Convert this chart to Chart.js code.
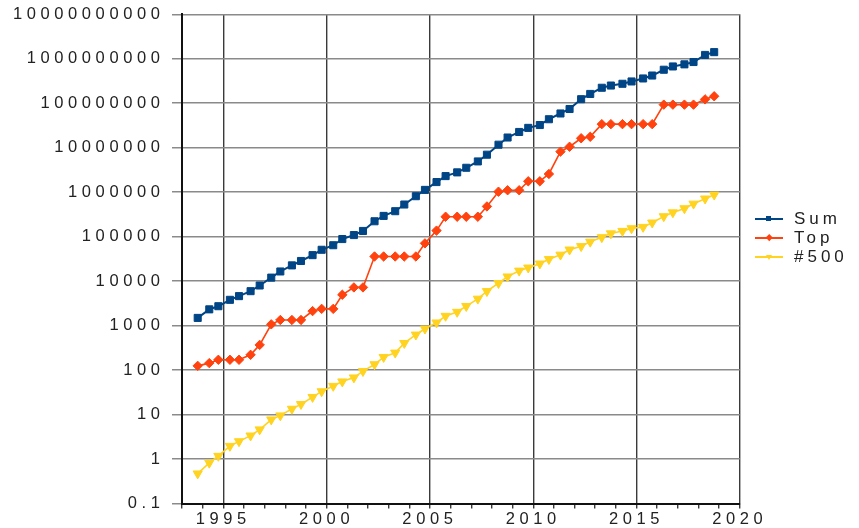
<!DOCTYPE html>
<html>
<head>
<meta charset="utf-8">
<script src="https://cdn.jsdelivr.net/npm/chart.js@4.4.1/dist/chart.umd.min.js"></script>
<style>
  html, body { margin: 0; padding: 0; background: #ffffff; }
  #wrap { position: relative; width: 859px; height: 528px; }
  #c { position: absolute; left: 0; top: 0; }
  #legend { position: absolute; left: 755px; top: 209px; font-family: 'Liberation Sans', Arial, Helvetica, sans-serif; font-size: 17px; letter-spacing: 4px; color: #222; }
  .row { position: relative; height: 19.2px; line-height: 19.2px; white-space: nowrap; }
  .ln { position: absolute; left: 0; top: 9px; width: 28px; height: 1.5px; }
  .mk { position: absolute; left: 11px; top: 7px; width: 5px; height: 5px; }
  .tx { position: absolute; left: 39px; top: 0; }
</style>
</head>
<body>
<div id="wrap">
  <canvas id="c" width="859" height="528"></canvas>
  <div id="legend"></div>
</div>
<script>
// list dates (decimal years as placed on the time axis): Nov 1993 ... Nov 2018
const listDates = [1993.76,
  1994.32, 1994.76, 1995.32, 1995.76, 1996.32, 1996.76, 1997.32, 1997.76,
  1998.32, 1998.76, 1999.32, 1999.76, 2000.32, 2000.76, 2001.32, 2001.76,
  2002.32, 2002.76, 2003.32, 2003.76, 2004.32, 2004.76, 2005.32, 2005.76,
  2006.32, 2006.76, 2007.32, 2007.76, 2008.32, 2008.76, 2009.32, 2009.76,
  2010.32, 2010.76, 2011.32, 2011.76, 2012.32, 2012.76, 2013.32, 2013.76,
  2014.32, 2014.76, 2015.32, 2015.76, 2016.32, 2016.76, 2017.32, 2017.76,
  2018.32, 2018.76];

const seriesNames = ['Sum', 'Top', '#500'];

const sumValues = [1490,
  2320, 2730, 3800, 4600, 5950, 7980, 12000, 16500,
  22600, 28400, 38400, 50700, 64200, 88400, 108600, 134400,
  222000, 293000, 374000, 528000, 813000, 1127000, 1690000, 2300000,
  2790000, 3540000, 4920000, 6970000, 11700000, 16950000, 22600000, 27950000,
  32400000, 43700000, 58900000, 74200000, 123400000, 162000000, 223000000, 250000000,
  274000000, 309000000, 361000000, 420000000, 567000000, 672000000, 749000000, 845000000,
  1220000000, 1410000000];

const topValues = [124.5,
  143.4, 170.4, 170.4, 170.4, 220.4, 368.2, 1068, 1338,
  1338, 1338, 2121, 2379, 2379, 4938, 7226, 7226,
  35860, 35860, 35860, 35860, 35860, 70720, 136800, 280600,
  280600, 280600, 280600, 478200, 1026000, 1105000, 1105000, 1759000,
  1759000, 2566000, 8162000, 10510000, 16320000, 17590000, 33860000, 33860000,
  33860000, 33860000, 33860000, 33860000, 93010000, 93010000, 93010000, 93010000,
  122300000, 143500000];

const lastValues = [0.47,
  0.82, 1.17, 1.96, 2.49, 3.35, 4.6, 7.7, 9.5,
  13.4, 17.1, 24.7, 33.1, 43.8, 55.1, 67.8, 94.3,
  134.3, 195.8, 245.1, 403.4, 624, 850.6, 1166, 1646,
  2026, 2737, 4005, 5929, 9000, 12640, 17100, 20050,
  24670, 31120, 39090, 50940, 60820, 76500, 96620, 117800,
  133700, 153400, 164700, 206400, 285900, 349300, 432200, 548700,
  715600, 874800];

const yTickValues = [0.1, 1, 10, 100, 1000, 10000, 100000, 1000000, 10000000, 100000000, 1000000000, 10000000000];
const xTickLabels = [1995, 2000, 2005, 2010, 2015, 2020];

const colors = ['#004586', '#ff420e', '#ffd320'];
const FONT = "'Liberation Sans', Arial, Helvetica, sans-serif";

function pts(vals) { return vals.map((v, i) => ({ x: listDates[i], y: v })); }

const SPACING = '4.6px';
const spacingPlugin = {
  id: 'spacing',
  beforeUpdate(chart) { chart.ctx.letterSpacing = SPACING; },
  beforeLayout(chart) { chart.ctx.letterSpacing = SPACING; },
  beforeDraw(chart) { chart.ctx.letterSpacing = SPACING; }
};

const chart = new Chart(document.getElementById('c'), {
  type: 'line',
  plugins: [spacingPlugin],
  data: {
    datasets: [
      { label: seriesNames[0], data: pts(sumValues), borderColor: colors[0], backgroundColor: colors[0],
        borderWidth: 2, pointStyle: 'rect', pointRadius: 5, pointBorderWidth: 1 },
      { label: seriesNames[1], data: pts(topValues), borderColor: colors[1], backgroundColor: colors[1],
        borderWidth: 1.6, pointStyle: 'rectRot', pointRadius: 4.7, pointBorderWidth: 1 },
      { label: seriesNames[2], data: pts(lastValues), borderColor: colors[2], backgroundColor: colors[2],
        borderWidth: 1.6, pointStyle: 'triangle', rotation: 180, pointRotation: 180, pointRadius: 5.3, pointBorderWidth: 1 }
    ]
  },
  options: {
    responsive: false,
    devicePixelRatio: 1,
    animation: false,
    layout: { padding: { left: 0, right: 119.2, top: 14.3, bottom: 0 } },
    plugins: { legend: { display: false }, tooltip: { enabled: false } },
    elements: { line: { tension: 0 } },
    scales: {
      x: {
        type: 'linear',
        min: 1993, max: 2020,
        afterFit(s) { s.height = 24.5; s.paddingLeft = 0; s.paddingRight = 0; },
        ticks: {
          stepSize: 1, autoSkip: false, maxRotation: 0, minRotation: 0, padding: 1,
          color: '#222', font: { family: FONT, size: 16.5 },
          callback: (v) => xTickLabels.includes(v) ? String(v) : ''
        },
        grid: {
          color: (c) => (c.tick && xTickLabels.includes(c.tick.value)) ? '#3a3a3a' : 'rgba(0,0,0,0)',
          tickColor: '#3a3a3a', lineWidth: 1.4, tickLength: 5, drawTicks: true
        },
        border: { color: '#111', width: 2 }
      },
      y: {
        type: 'logarithmic',
        min: 0.1, max: 10000000000,
        afterFit(s) { s.width = 182; s.paddingTop = 0; s.paddingBottom = 0; },
        afterBuildTicks(s) { s.ticks = yTickValues.map(v => ({ value: v })); },
        ticks: {
          padding: 7.5, color: '#222', font: { family: FONT, size: 16.5 },
          callback: (v) => yTickValues.includes(v) ? (v < 1 ? String(v) : v.toFixed(0)) : ''
        },
        grid: { color: '#8a8a8a', tickColor: '#8a8a8a', lineWidth: 1.5, tickLength: 10 },
        border: { color: '#111', width: 2 }
      }
    }
  }
});

// legend (HTML, real text)
const legend = document.getElementById('legend');
const markerCss = [
  'background:' + colors[0] + ';width:5px;height:5px;left:11px;top:7px;',
  'background:' + colors[1] + ';width:4.5px;height:4.5px;left:11.5px;top:7.2px;transform:rotate(45deg);',
  'width:0;height:0;left:10.5px;top:7.5px;border-left:3.5px solid transparent;border-right:3.5px solid transparent;border-top:5px solid ' + colors[2] + ';'
];
seriesNames.forEach((name, i) => {
  const row = document.createElement('div');
  row.className = 'row';
  row.innerHTML = '<div class="ln" style="background:' + colors[i] + '"></div>' +
    '<div class="mk" style="' + markerCss[i] + '"></div>' +
    '<div class="tx">' + name.replace('#', '&#35;') + '</div>';
  legend.appendChild(row);
});
</script>
</body>
</html>
